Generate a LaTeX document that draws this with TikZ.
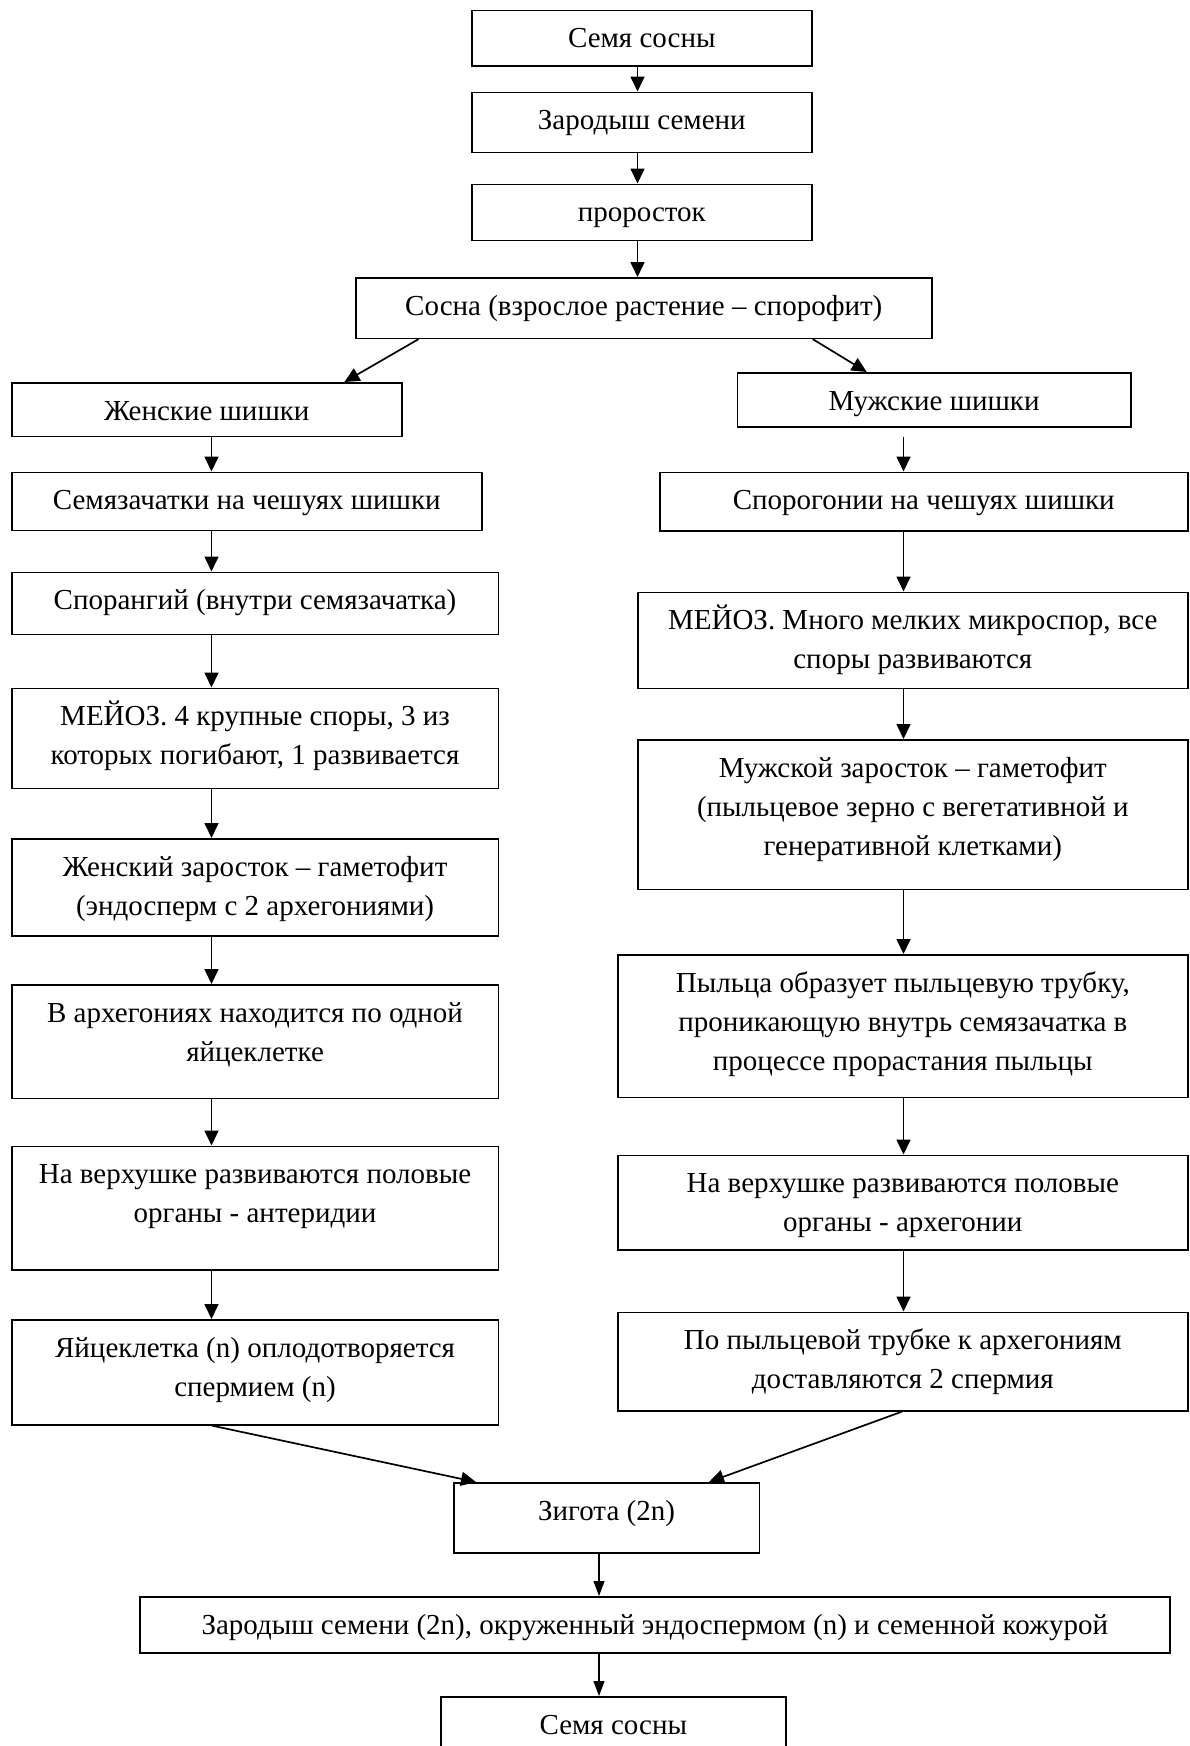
\documentclass[tikz,border=0pt]{standalone}
\usepackage{fontspec}
\setmainfont{Liberation Serif}
\usetikzlibrary{arrows.meta}
\newcommand\mkbox[6]{%
  \node[box, minimum width={#4pt-#2pt}, minimum height={#5pt-#3pt}] (#1) at (#2,#3) {};
  \node[lbl] (#1t) at ([yshift=-38pt]#1.north) {\parbox[t]{\dimexpr#4pt-#2pt-4pt\relax}{\centering\fontsize{29}{39}\selectfont #6}};}
\begin{document}
\begin{tikzpicture}[x=1pt,y=-1pt,
  box/.style={draw, line width=1.6pt, inner sep=0pt, anchor=north west},
  lbl/.style={anchor=base, inner sep=0pt},
  arr/.style={line width=1.7pt, -{Triangle[length=15pt,width=14pt]}},
  arrb/.style={line width=1.2pt, -{Triangle[length=15pt,width=11pt]}}]
\useasboundingbox (0,0) rectangle (1189,1746);
\mkbox{s1}{471}{9.5}{811}{65}{Семя сосны}
\mkbox{s2}{471}{91.5}{811}{151.5}{Зародыш семени}
\mkbox{s3}{471}{183.5}{811}{239.5}{проросток}
\mkbox{s4}{355}{277}{931}{337.5}{Сосна (взрослое растение – спорофит)}
\mkbox{L1}{11}{382}{401}{435.5}{Женские шишки}
\mkbox{R1}{736.5}{372}{1130}{426}{Мужские шишки}
\mkbox{L2}{11}{471.5}{481}{529.5}{Семязачатки на чешуях шишки}
\mkbox{R2}{659}{471.5}{1187}{530}{Спорогонии на чешуях шишки}
\mkbox{L3}{11}{571.5}{497.5}{633.5}{Спорангий (внутри семязачатка)}
\mkbox{R3}{637}{591.5}{1187}{687.5}{МЕЙОЗ. Много мелких микроспор, все\\споры развиваются}
\mkbox{L4}{11}{687.5}{497.5}{787.5}{МЕЙОЗ. 4 крупные споры, 3 из\\которых погибают, 1 развивается}
\mkbox{R4}{637}{739}{1187}{888.5}{Мужской заросток – гаметофит\\(пыльцевое зерно с вегетативной и\\генеративной клетками)}
\mkbox{L5}{11}{838}{497.5}{935}{Женский заросток – гаметофит\\(эндосперм с 2 архегониями)}
\mkbox{R5}{617}{954}{1187}{1096.5}{Пыльца образует пыльцевую трубку,\\проникающую внутрь семязачатка в\\процессе прорастания пыльцы}
\mkbox{L6}{11}{984}{497.5}{1097.5}{В архегониях находится по одной\\яйцеклетке}
\mkbox{R6}{617}{1154.5}{1187}{1249}{На верхушке развиваются половые\\органы - архегонии}
\mkbox{L7}{11}{1145.5}{497.5}{1269}{На верхушке развиваются половые\\органы - антеридии}
\mkbox{R7}{617}{1311.5}{1187}{1410}{По пыльцевой трубке к архегониям\\доставляются 2 спермия}
\mkbox{L8}{11}{1319}{497.5}{1424}{Яйцеклетка (n) оплодотворяется\\спермием (n)}
\mkbox{Z}{453}{1482}{758.5}{1552}{Зигота (2n)}
\mkbox{E}{139}{1596}{1169}{1652}{Зародыш семени (2n), окруженный эндоспермом (n) и семенной кожурой}
\mkbox{F}{440}{1696}{785}{1760}{Семя сосны}
\coordinate (xT) at (637.5,0);
\coordinate (xL) at (211.5,0);
\coordinate (xR) at (903.5,0);
\coordinate (xB) at (599,0);
\draw[arr] (s1.south -| xT) -- (s2.north -| xT);
\draw[arr] (s2.south -| xT) -- (s3.north -| xT);
\draw[arr] (s3.south -| xT) -- (s4.north -| xT);
\draw[arr] ([xshift=63.6pt]s4.south west) -- ([xshift=333.4pt]L1.north west);
\draw[arr] ([xshift=457.7pt]s4.south west) -- ([xshift=130.2pt]R1.north west);
\draw[arr] (L1.south -| xL) -- (L2.north -| xL);
\draw[arr] (L2.south -| xL) -- (L3.north -| xL);
\draw[arr] (L3.south -| xL) -- (L4.north -| xL);
\draw[arr] (L4.south -| xL) -- (L5.north -| xL);
\draw[arr] (L5.south -| xL) -- (L6.north -| xL);
\draw[arr] (L6.south -| xL) -- (L7.north -| xL);
\draw[arr] (L7.south -| xL) -- (L8.north -| xL);
\draw[arr] ([yshift=-9pt]R1.south -| xR) -- (R2.north -| xR);
\draw[arr] (R2.south -| xR) -- (R3.north -| xR);
\draw[arr] (R3.south -| xR) -- (R4.north -| xR);
\draw[arr] (R4.south -| xR) -- (R5.north -| xR);
\draw[arr] (R5.south -| xR) -- (R6.north -| xR);
\draw[arr] (R6.south -| xR) -- (R7.north -| xR);
\draw[arr] ([xshift=201pt]L8.south west) -- ([xshift=23pt]Z.north west);
\draw[arr] ([xshift=285pt]R7.south west) -- ([xshift=256pt]Z.north west);
\draw[arrb] (Z.south -| xB) -- (E.north -| xB);
\draw[arrb] (E.south -| xB) -- (F.north -| xB);
\end{tikzpicture}
\end{document}
